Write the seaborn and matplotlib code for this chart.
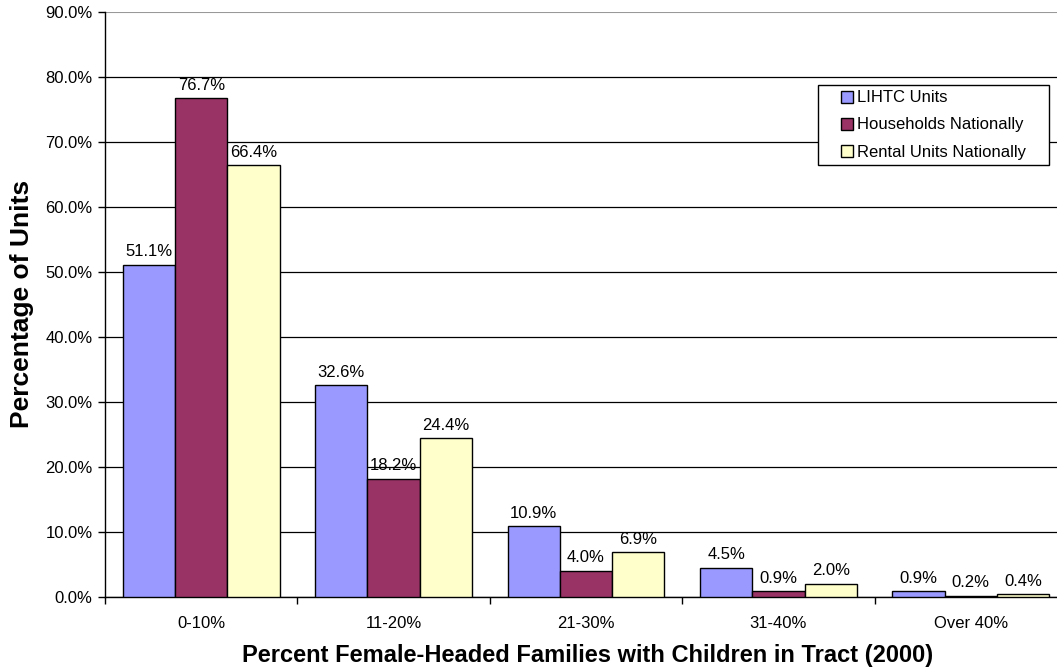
import matplotlib
matplotlib.use("Agg")
import matplotlib.pyplot as plt
import matplotlib.patches as mpatches
import seaborn as sns
import pandas as pd
import numpy as np
from matplotlib.ticker import FixedLocator, PercentFormatter

categories = ["0-10%", "11-20%", "21-30%", "31-40%", "Over 40%"]
series_names = ["LIHTC Units", "Households Nationally", "Rental Units Nationally"]
lihtc = [51.1, 32.6, 10.9, 4.5, 0.9]
households = [76.7, 18.2, 4.0, 0.9, 0.2]
rental = [66.4, 24.4, 6.9, 2.0, 0.4]
colors = ["#9999FF", "#993366", "#FFFFCC"]

rows = []
for name, vals in zip(series_names, [lihtc, households, rental]):
    for c, v in zip(categories, vals):
        rows.append({"Category": c, "Series": name, "Value": v})
df = pd.DataFrame(rows)

sns.set_style("white")
plt.rcParams["font.family"] = ["Liberation Sans", "DejaVu Sans"]
plt.rcParams["text.color"] = "black"
plt.rcParams["axes.labelcolor"] = "black"
plt.rcParams["xtick.color"] = "black"
plt.rcParams["ytick.color"] = "black"

W, H = 1057, 671
left, right, top, bottom = 105, 1067, 12, 597
fig = plt.figure(figsize=(W/100, H/100), dpi=100)
ax = fig.add_axes([left/W, 1 - bottom/H, (right-left)/W, (bottom-top)/H])

sns.barplot(data=df, x="Category", y="Value", hue="Series", order=categories,
            hue_order=series_names, palette=colors, width=0.816, gap=0,
            edgecolor="black", linewidth=1.0, saturation=1, ax=ax, zorder=3)

for cont in ax.containers:
    ax.bar_label(cont, labels=[f"{v:.1f}%" for v in cont.datavalues],
                 padding=4, fontsize=12, color="black")

ax.set_ylim(0, 90)
ax.set_xlim(-0.5, 4.5)
ax.set_yticks(np.arange(0, 91, 10))
ax.yaxis.set_major_formatter(PercentFormatter(decimals=1))
ax.grid(axis="y", color="black", linewidth=0.9, zorder=0)
ax.set_axisbelow(True)
gl = ax.get_ygridlines()
gl[-1].set_color("#999999")
gl[-1].set_linewidth(1.5)
ax.tick_params(axis="y", direction="out", length=5, width=1, labelsize=12, left=True, pad=4)
ax.tick_params(axis="x", which="major", length=0, labelsize=12, pad=14)
ax.xaxis.set_minor_locator(FixedLocator(np.arange(-0.5, 5.0, 1.0)))
ax.tick_params(axis="x", which="minor", direction="out", length=5, width=1, bottom=True)

for s in ["top", "right"]:
    ax.spines[s].set_visible(False)
for s in ["left", "bottom"]:
    ax.spines[s].set_color("black")
    ax.spines[s].set_linewidth(1.0)

ax.set_ylabel("Percentage of Units", fontsize=19, fontweight="bold")
ax.set_xlabel("Percent Female-Headed Families with Children in Tract (2000)",
              fontsize=17, fontweight="bold")
ax.yaxis.set_label_coords((34 - left)/(right - left), (bottom - 304)/(bottom - top))
ax.xaxis.set_label_coords((588 - left)/(right - left), (bottom - 644)/(bottom - top))

# legend frame (Excel style box)
lx0, lx1, ly0, ly1 = 818, 1049, 85, 165
frame = mpatches.Rectangle((lx0/W, 1 - ly1/H), (lx1-lx0)/W, (ly1-ly0)/H,
                           transform=fig.transFigure, facecolor="white",
                           edgecolor="black", linewidth=1.0, zorder=5, clip_on=False)
ax.add_artist(frame)

leg = ax.legend(loc="center",
                bbox_to_anchor=((lx0 + lx1)/2/W, 1 - (ly0 + ly1)/2/H),
                bbox_transform=fig.transFigure, frameon=False,
                fontsize=12, handlelength=0.75, handleheight=0.75,
                handletextpad=0.25, borderpad=0.0, labelspacing=0.72, borderaxespad=0)
leg.set_zorder(6)
for h in leg.legend_handles:
    h.set_edgecolor("black")
    h.set_linewidth(1.0)

fig.savefig("out.png", dpi=100)
